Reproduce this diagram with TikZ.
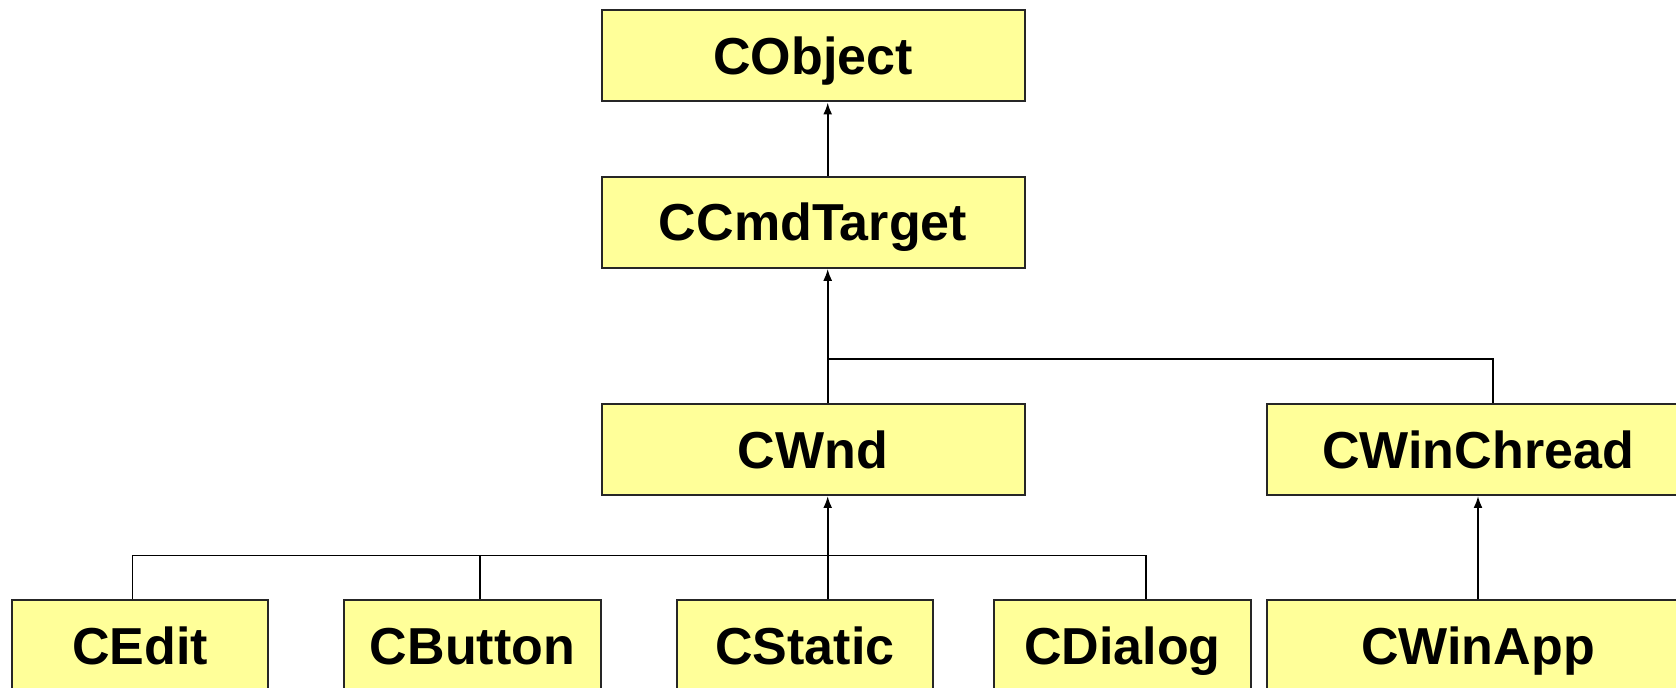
\documentclass[tikz,border=0pt]{standalone}
\usepackage{fontspec}
\setmainfont{Liberation Sans}
\usepackage{tikz}
\usetikzlibrary{arrows.meta}
\definecolor{classYellow}{RGB}{255,255,153}

\tikzset{
	classBox/.style = {draw = black!85, fill = classYellow, line width = 1pt, inner sep = 0pt, font = \fontsize{26}{30}\selectfont\bfseries, text height = 18.6pt, text depth = 0pt, minimum height = 45.5pt},
	wideBox/.style = {classBox, minimum width = 211.5pt},
	narrowBox/.style = {classBox, minimum width = 128.25pt},
	inherit/.style = {-{Latex[length = 6pt, width = 4.5pt]}, line width = 1pt},
	joint/.style = {line width = 0.7pt}
}

\begin{document}
\begin{tikzpicture}[x = 0.5pt, y = -0.5pt]

	% page
	\clip (0,0) rectangle (1676,688);

	% rows
	\def \rowOne {56}
	\def \rowTwo {222.3}
	\def \rowThree {449.5}
	\def \rowFour {646}

	% upper classes
	\node [wideBox] (cObject) at (813, \rowOne) {CObject};
	\node [wideBox] (cCmdTarget) at (813, \rowTwo) {CCmdTarget};
	\node [wideBox] (cWnd) at (813, \rowThree) {CWnd};
	\node [wideBox] (cWinChread) at (1478, \rowThree) {CWinChread};

	% lower classes
	\node [narrowBox] (cEdit) at (140, \rowFour) {CEdit};
	\node [narrowBox] (cButton) at (472.5, \rowFour) {CButton};
	\node [narrowBox] (cStatic) at (805, \rowFour) {CStatic};
	\node [narrowBox] (cDialog) at (1122.3, \rowFour) {CDialog};
	\node [wideBox] (cWinApp) at (1478, \rowFour) {CWinApp};

	% joints of the tree
	\coordinate (trunk) at (827.7, 359);
	\coordinate (threadJoin) at (1493, 359);
	\coordinate (wndJoin) at (827.7, 555.8);
	\coordinate (editJoin) at (132.5, 555.8);
	\coordinate (buttonJoin) at (480, 555.8);
	\coordinate (dialogJoin) at (1145.9, 555.8);

	% CCmdTarget branch
	\draw [inherit] (cCmdTarget.north -| trunk) -- (cObject.south -| trunk);
	\draw [inherit] (cWnd.north -| trunk) -- (cCmdTarget.south -| trunk);
	\draw [joint] (trunk) -- (threadJoin) -- (cWinChread.north -| threadJoin);

	% CWnd branch
	\draw [inherit] (cStatic.north -| wndJoin) -- (cWnd.south -| wndJoin);
	\draw [joint] (cEdit.north -| editJoin) -- (editJoin) -- (dialogJoin) -- (cDialog.north -| dialogJoin);
	\draw [joint] (buttonJoin) -- (cButton.north -| buttonJoin);

	% CWinChread branch
	\draw [inherit] (cWinApp.north) -- (cWinChread.south);

\end{tikzpicture}
\end{document}
